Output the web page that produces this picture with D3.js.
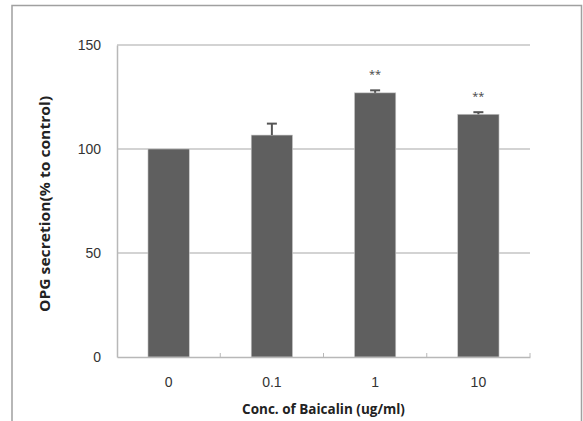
<!DOCTYPE html>
<html>
<head>
<meta charset="utf-8">
<script src="https://cdn.jsdelivr.net/npm/d3@7"></script>
<style>
  body { margin: 0; background: #fff; }
  svg { display: block; font-family: "Open Sans", "Noto Sans", sans-serif; }
</style>
</head>
<body>
<svg id="svg" width="583" height="421"></svg>
<script>
// values
let categories = ["0", "0.1", "1", "10"];
let values = [100, 106.7, 127, 116.7];
let errors = [0, 5.5, 1.2, 1.0];
let marks = ["", "", "**", "**"];
let yTicks = [0, 50, 100, 150];

let data = categories.map((c, i) => ({ cat: c, value: values[i], err: errors[i], mark: marks[i] }));

let svg = d3.select("svg");
let margin = {top: 45, right: 53, bottom: 64, left: 117};
let width = 583 - margin.left - margin.right;
let height = 421 - margin.top - margin.bottom;

// outer frame of the chart area (bottom is cut off in the picture)
svg.append("path")
  .attr("d", "M12,421V5.5H581.5V421")
  .attr("fill", "none")
  .attr("stroke", "#a0a0a0")
  .attr("stroke-width", 1.5);

let x = d3.scaleBand().domain(categories).range([0, width]).paddingInner(0.6).paddingOuter(0.3);
let y = d3.scaleLinear().domain([0, 150]).range([height, 0]);
let cx = d => x(d.cat) + x.bandwidth() / 2;

let g = svg.append("g")
  .attr("transform", "translate(" + margin.left + "," + margin.top + ")");

// gridlines
g.append("g")
  .selectAll("line")
  .data(yTicks.filter(t => t > 0))
  .enter().append("line")
    .attr("x1", 0)
    .attr("x2", width)
    .attr("y1", d => y(d))
    .attr("y2", d => y(d))
    .attr("stroke", "#c4c4c4")
    .attr("stroke-width", 1.5);

// y axis
let yAxis = g.append("g")
  .call(d3.axisLeft(y).tickValues(yTicks).tickSize(0).tickPadding(16));
yAxis.select(".domain").attr("stroke", "#b8b8b8").attr("stroke-width", 1.5);
yAxis.selectAll("text").attr("font-size", 14).attr("fill", "#333");

// bars
g.selectAll(".bar")
  .data(data)
  .enter().append("rect")
    .attr("class", "bar")
    .attr("x", d => x(d.cat))
    .attr("width", x.bandwidth())
    .attr("y", d => y(d.value))
    .attr("height", d => height - y(d.value))
    .attr("fill", "#5f5f5f")
    .attr("stroke", "#c8c8c8")
    .attr("stroke-width", 0.6);

// error bars (upper only)
let err = g.selectAll(".err")
  .data(data.filter(d => d.err > 0))
  .enter().append("g")
    .attr("class", "err");
err.append("line")
  .attr("x1", cx)
  .attr("x2", cx)
  .attr("y1", d => y(d.value))
  .attr("y2", d => y(d.value + d.err))
  .attr("stroke", "#555")
  .attr("stroke-width", 2);
err.append("line")
  .attr("x1", d => cx(d) - 5)
  .attr("x2", d => cx(d) + 5)
  .attr("y1", d => y(d.value + d.err))
  .attr("y2", d => y(d.value + d.err))
  .attr("stroke", "#555")
  .attr("stroke-width", 2);

// significance marks
g.selectAll(".mark")
  .data(data)
  .enter().append("text")
    .attr("class", "mark")
    .attr("x", cx)
    .attr("y", d => y(d.value + d.err) - 12)
    .attr("text-anchor", "middle")
    .attr("font-size", 11)
    .attr("fill", "#444")
    .text(d => d.mark);

// x axis
let xAxis = g.append("g")
  .attr("transform", "translate(0," + height + ")")
  .call(d3.axisBottom(x).tickSize(0).tickPadding(20));
xAxis.select(".domain").attr("stroke", "#b8b8b8").attr("stroke-width", 1.5);
xAxis.selectAll("text").attr("font-size", 14).attr("fill", "#333");

// small inner ticks between categories
let step = width / categories.length;
g.append("g")
  .selectAll("line")
  .data(d3.range(1, categories.length + 1))
  .enter().append("line")
    .attr("x1", d => d * step)
    .attr("x2", d => d * step)
    .attr("y1", height)
    .attr("y2", height - 4)
    .attr("stroke", "#b8b8b8")
    .attr("stroke-width", 1);

// axis titles
svg.append("text")
  .attr("x", margin.left + width / 2)
  .attr("y", 414)
  .attr("text-anchor", "middle")
  .attr("font-size", 13.5)
  .attr("font-weight", "bold")
  .attr("fill", "#222")
  .text("Conc. of Baicalin (ug/ml)");

svg.append("text")
  .attr("transform", "translate(50,204) rotate(-90)")
  .attr("text-anchor", "middle")
  .attr("font-size", 14)
  .attr("font-weight", "bold")
  .attr("fill", "#222")
  .attr("textLength", 216)
  .attr("lengthAdjust", "spacingAndGlyphs")
  .text("OPG secretion(% to control)");
</script>
</body>
</html>
